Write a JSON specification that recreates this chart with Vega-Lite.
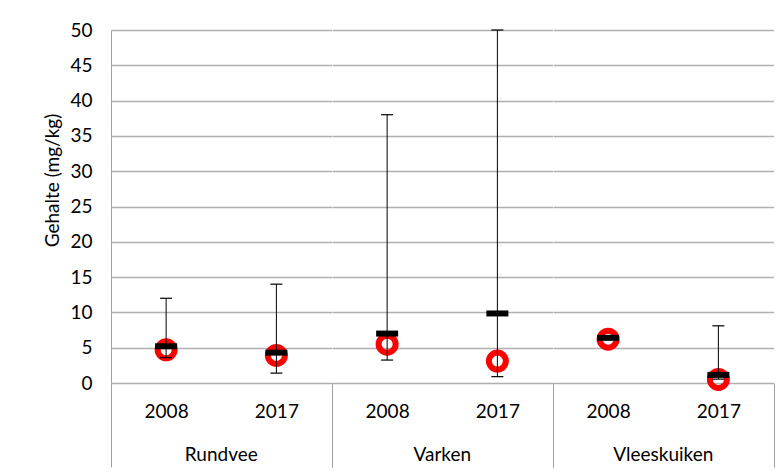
{
  "$schema": "https://vega.github.io/schema/vega-lite/v6.json",
  "padding": {"left": 43, "top": 21, "right": 0, "bottom": 0},
  "background": "white",
  "bounds": "flush",
  "data": {
    "values": [
      {"group": "Rundvee", "year": "2008", "median": 4.7, "mean": 5.2, "min": 3.6, "max": 12},
      {"group": "Rundvee", "year": "2017", "median": 3.9, "mean": 4.3, "min": 1.4, "max": 14},
      {"group": "Varken", "year": "2008", "median": 5.5, "mean": 7.0, "min": 3.25, "max": 38},
      {"group": "Varken", "year": "2017", "median": 3.1, "mean": 9.85, "min": 0.9, "max": 50},
      {"group": "Vleeskuiken", "year": "2008", "median": 6.2, "mean": 6.4, "min": 6.2, "max": 6.6},
      {"group": "Vleeskuiken", "year": "2017", "median": 0.5, "mean": 1.15, "min": 0.55, "max": 8.1}
    ]
  },
  "facet": {
    "column": {
      "field": "group", "type": "nominal", "sort": null,
      "header": {"title": null, "labelOrient": "bottom", "labelFont": "Lato", "labelFontSize": 19, "labelColor": "#000000", "labelPadding": -22}
    }
  },
  "spacing": 0,
  "spec": {
    "width": 220.5,
    "height": 353,
    "encoding": {
      "x": {
        "field": "year", "type": "ordinal", "sort": null,
        "scale": {"paddingInner": 0, "paddingOuter": 0},
        "axis": {
          "title": null,
          "labelAngle": 0,
          "tickBand": "extent",
          "tickSize": 84,
          "tickWidth": 1,
          "tickColor": {"condition": {"test": "datum.value != '2008'", "value": "#a0a0a0"}, "value": "rgba(0,0,0,0)"},
          "domainColor": "#a0a0a0",
          "labelPadding": -65,
          "labelFont": "Lato",
          "labelFontSize": 19,
          "labelColor": "#000000",
          "grid": false
        }
      }
    },
    "layer": [
      {
        "mark": {"type": "point", "shape": "circle", "filled": false, "stroke": "#ff0000", "strokeWidth": 6, "size": 289, "opacity": 1},
        "encoding": {
          "y": {"field": "median", "type": "quantitative", "title": "Gehalte (mg/kg)", "scale": {"domain": [0, 50], "nice": false, "zero": true}}
        }
      },
      {
        "mark": {"type": "rule", "color": "#000000", "strokeWidth": 1, "opacity": 1},
        "encoding": {
          "y": {"field": "min", "type": "quantitative", "title": "Gehalte (mg/kg)"},
          "y2": {"field": "max"}
        }
      },
      {
        "mark": {"type": "tick", "color": "#000000", "size": 12, "thickness": 1.2, "opacity": 1},
        "encoding": {
          "y": {"field": "min", "type": "quantitative", "title": "Gehalte (mg/kg)"}
        }
      },
      {
        "mark": {"type": "tick", "color": "#000000", "size": 12, "thickness": 1.2, "opacity": 1},
        "encoding": {
          "y": {"field": "max", "type": "quantitative", "title": "Gehalte (mg/kg)"}
        }
      },
      {
        "mark": {"type": "tick", "color": "#000000", "size": 22, "thickness": 6, "opacity": 1},
        "encoding": {
          "y": {"field": "mean", "type": "quantitative", "title": "Gehalte (mg/kg)"}
        }
      }
    ]
  },
  "config": {
    "view": {"stroke": null},
    "axisY": {
      "values": [0, 5, 10, 15, 20, 25, 30, 35, 40, 45, 50],
      "grid": true,
      "gridColor": "#b0b0b0",
      "gridWidth": 1.3,
      "ticks": false,
      "domainColor": "#a0a0a0",
      "labelPadding": 19,
      "labelFont": "Lato",
      "labelFontSize": 19,
      "labelColor": "#000000",
      "titleFont": "Lato",
      "titleFontSize": 19,
      "titleFontWeight": "normal",
      "titleColor": "#000000",
      "titleX": -49,
      "titleY": 150,
      "titleBaseline": "bottom"
    }
  }
}
